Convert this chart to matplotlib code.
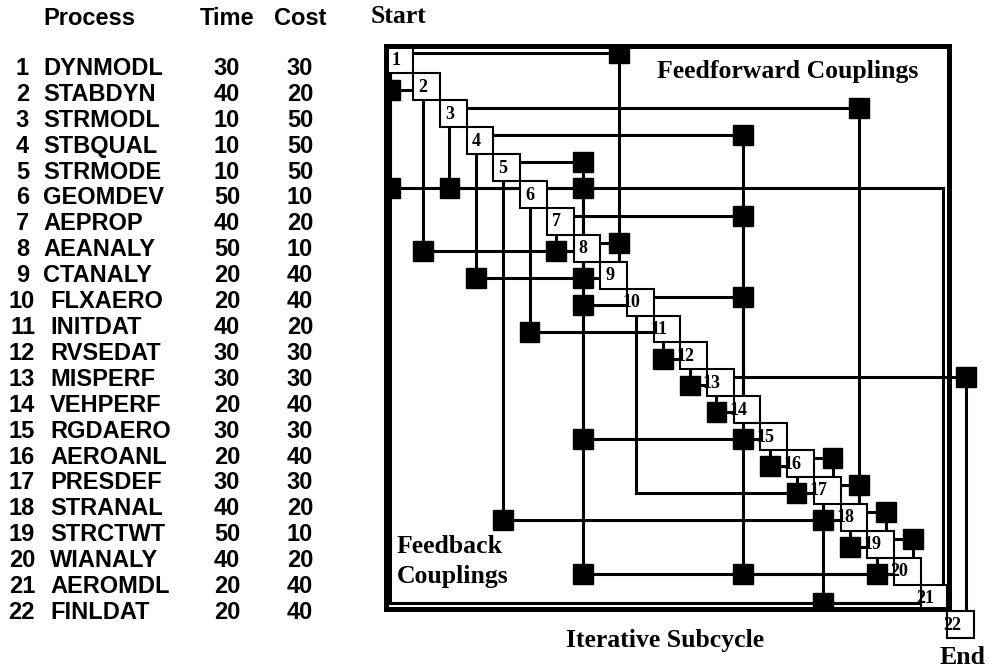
import matplotlib.pyplot as plt
from matplotlib.patches import Rectangle

W, H = 992, 672

# process table
proc_names = ["DYNMODL", "STABDYN", "STRMODL", "STBQUAL", "STRMODE", "GEOMDEV",
              "AEPROP", "AEANALY", "CTANALY", "FLXAERO", "INITDAT", "RVSEDAT",
              "MISPERF", "VEHPERF", "RGDAERO", "AEROANL", "PRESDEF", "STRANAL",
              "STRCTWT", "WIANALY", "AEROMDL", "FINLDAT"]
proc_time = [30, 40, 10, 10, 10, 50, 40, 50, 20, 20, 40, 30, 30, 20, 30, 20, 30, 40, 50, 40, 20, 20]
proc_cost = [30, 20, 50, 50, 50, 10, 20, 10, 40, 40, 20, 30, 30, 40, 30, 40, 30, 20, 10, 20, 40, 40]

# couplings (from process, to process) shown with a black mark
marked = [(1, 9), (2, 1), (3, 18), (4, 14), (5, 8), (6, 1), (6, 3), (6, 8), (7, 14),
          (8, 2), (8, 7), (8, 9), (9, 4), (9, 8), (10, 8), (10, 14), (11, 6),
          (12, 11), (13, 12), (13, 22), (14, 13), (15, 8), (15, 14), (16, 15),
          (16, 17), (17, 16), (17, 18), (18, 5), (18, 17), (18, 19), (19, 18),
          (19, 20), (20, 8), (20, 14), (20, 19), (21, 17)]
# couplings drawn without a mark
unmarked = [(6, 21), (17, 10), (21, 1)]

n = len(proc_names)

# where the connecting lines run inside a cell (fraction of a cell)
row_ff = {1: -0.26, 6: -0.25}
row_fb = {6: -0.25, 21: 0.2}
col_ff = {8: -0.15, 14: -0.15, 21: 0.35}
col_fb = {1: -0.375}

serif = 'Liberation Serif'
sans = 'Liberation Sans'

fig = plt.figure(figsize=(W / 100, H / 100), dpi=100)
ax = fig.add_axes([0, 0, 1, 1])
ax.set_xlim(-13.98, 23.17)
ax.set_ylim(23.75, -1.23)
ax.axis('off')


def route(i, j):
    if j > i:
        ro = row_ff.get(i, -0.2)
        co = col_ff.get(j, 0.2)
    else:
        ro = row_fb.get(i, 0.1)
        co = col_fb.get(j, -0.15)
    return i + ro, j + co


# lines: out of box i sideways, then up/down into box j
for i, j in marked + unmarked:
    y, x = route(i, j)
    ax.plot([i, x, x], [y, y, j], color='black', lw=2.2,
            solid_joinstyle='miter', zorder=2)

# the iterative subcycle frame
frame = (0.47, 0.48, 21.1, 20.94)
clip = Rectangle(frame[:2], frame[2], frame[3], transform=ax.transData)

for i, j in marked:
    y, x = route(i, j)
    sq = Rectangle((x - 0.37, y - 0.37), 0.74, 0.74, color='black', zorder=3)
    ax.add_patch(sq)
    if max(i, j) < n:
        sq.set_clip_path(clip)

# diagonal process boxes
for k in range(1, n + 1):
    ax.add_patch(Rectangle((k - 0.5, k - 0.5), 1, 1, facecolor='white',
                           edgecolor='black', lw=1.5, zorder=4))
    ax.text(k + 0.02, k + 0.02, str(k), ha='right', va='center', fontsize=13,
            fontweight='bold', family=serif, zorder=7)

ax.add_patch(Rectangle(frame[:2], frame[2], frame[3], fill=False,
                       edgecolor='black', lw=3.6, zorder=6))


def ftext(x, y, s, **kw):
    fig.text(x / W, 1 - y / H, s, **kw)


# left table
hdr = dict(fontsize=17, fontweight='bold', family=sans, va='baseline')
ftext(43, 25, "Process", ha='left', **hdr)
ftext(227, 25, "Time", ha='center', **hdr)
ftext(300, 25, "Cost", ha='center', **hdr)
for k in range(1, n + 1):
    yb = 75 + 25.9 * (k - 1)
    if k < 10:
        ftext(29, yb, str(k), ha='right', **hdr)
        ftext(43, yb, proc_names[k - 1], ha='left', **hdr)
    else:
        ftext(35, yb, str(k), ha='right', **hdr)
        ftext(50, yb, proc_names[k - 1], ha='left', **hdr)
    ftext(227, yb, str(proc_time[k - 1]), ha='center', **hdr)
    ftext(300, yb, str(proc_cost[k - 1]), ha='center', **hdr)

# labels round the matrix
lab = dict(fontsize=18.5, fontweight='bold', family=serif, va='baseline')
ftext(371, 23, "Start", ha='left', **lab)
ftext(918, 78, "Feedforward Couplings", ha='right', **lab)
ftext(397, 553, "Feedback", ha='left', **lab)
ftext(397, 583, "Couplings", ha='left', **lab)
ftext(665, 647, "Iterative Subcycle", ha='center', **lab)
ftext(940, 664, "End", ha='left', **lab)

fig.savefig("out.png", dpi=100)
